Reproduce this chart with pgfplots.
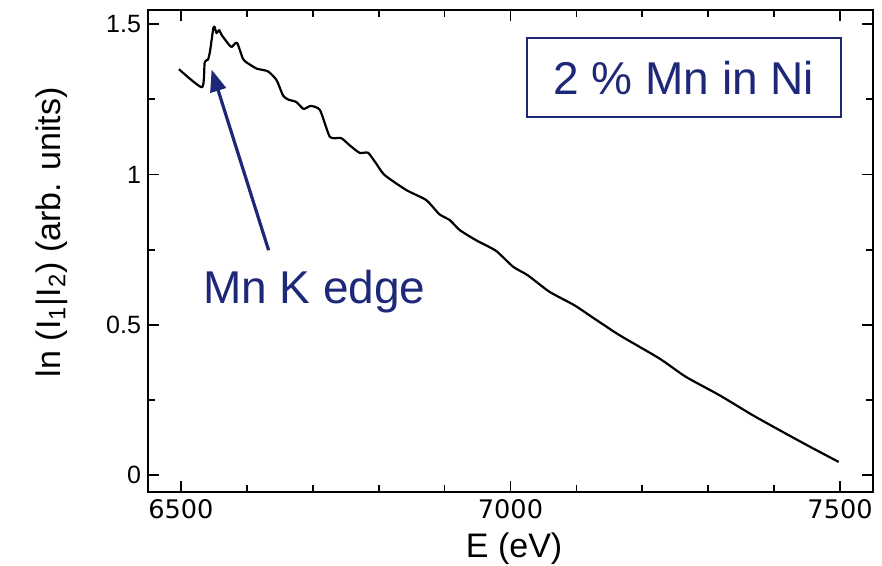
\documentclass[border=0pt]{standalone}
\usepackage{pgfplots}
\pgfplotsset{compat=1.18}
\usepackage{fontspec}
\setmainfont{Liberation Sans}
\newfontfamily\dvfont{DejaVu Sans}
\usetikzlibrary{arrows.meta}
\definecolor{navy}{RGB}{30,40,120}
\begin{document}
\begin{tikzpicture}
\begin{axis}[
  at={(0,0)}, anchor=south west,
  scale only axis, width=362.5pt, height=241pt,
  xmin=6450, xmax=7550, ymin=-0.056, ymax=1.547,
  xtick={6500,7000,7500},
  minor xtick={6600,6700,6800,6900,7100,7200,7300,7400},
  ytick={0,0.5,1,1.5},
  minor ytick={0.25,0.75,1.25},
  tick align=inside,
  major tick length=5.5pt, minor tick length=3.5pt,
  every tick/.style={black, line width=0.9pt},
  axis line style={line width=1.2pt},
  /pgf/number format/assume math mode=true,
  /pgf/number format/1000 sep={},
  xticklabel style={font=\dvfont\fontsize{12.8}{14}\selectfont},
  yticklabel style={font=\fontsize{12.5}{14}\selectfont},
  xlabel={E (eV)},
  ylabel={ln (I\textsubscript{1}|I\textsubscript{2}) (arb. units)},
  xlabel style={font=\fontsize{17}{19}\selectfont, at={(axis description cs:0.505,-0.135)}, anchor=base},
  ylabel style={font=\fontsize{17}{19}\selectfont, at={(axis description cs:-0.121,0.539)}, anchor=base},
  clip=false,
]
\addplot[black, line width=1.1pt, line join=round, smooth, tension=0.35] coordinates {
(6497,1.350) (6532,1.290) (6536,1.373) (6541,1.382) (6544,1.408)
(6549,1.485) (6551,1.491) (6554,1.470) (6558,1.480) (6562,1.463)
(6572,1.434) (6577,1.424) (6585,1.438) (6594,1.385) (6600,1.372)
(6615,1.352) (6632,1.343) (6645,1.314) (6655,1.262) (6663,1.249)
(6675,1.241) (6686,1.218) (6697,1.228) (6711,1.214) (6726,1.125)
(6743,1.121) (6756,1.097) (6771,1.072) (6784,1.072) (6796,1.037)
(6809,0.998) (6842,0.948) (6872,0.915) (6892,0.868) (6908,0.848)
(6923,0.815) (6948,0.781) (6978,0.746) (7004,0.693) (7026,0.665)
(7059,0.610) (7097,0.565) (7127,0.521) (7165,0.466) (7226,0.388)
(7266,0.327) (7317,0.266) (7367,0.200) (7417,0.139) (7459,0.089)
(7498,0.044)
};
\draw[navy, line width=1.6pt, -{Triangle[length=11pt, width=8pt]}] (axis cs:6633,0.748) -- (axis cs:6546.5,1.349);
\node[navy, anchor=base west, inner sep=0pt, font=\fontsize{23}{27}\selectfont] at (axis cs:6533,0.572) {Mn K edge};
\node[navy, draw=navy, line width=0.8pt, fill=white, minimum width=157pt, minimum height=39.5pt, inner sep=0pt, font=\fontsize{23}{27}\selectfont] at (axis description cs:0.739,0.860) {2 \% Mn in Ni};
\end{axis}
\pgfresetboundingbox
\path (-74pt,-37pt) rectangle (367pt,246pt);
\end{tikzpicture}
\end{document}
